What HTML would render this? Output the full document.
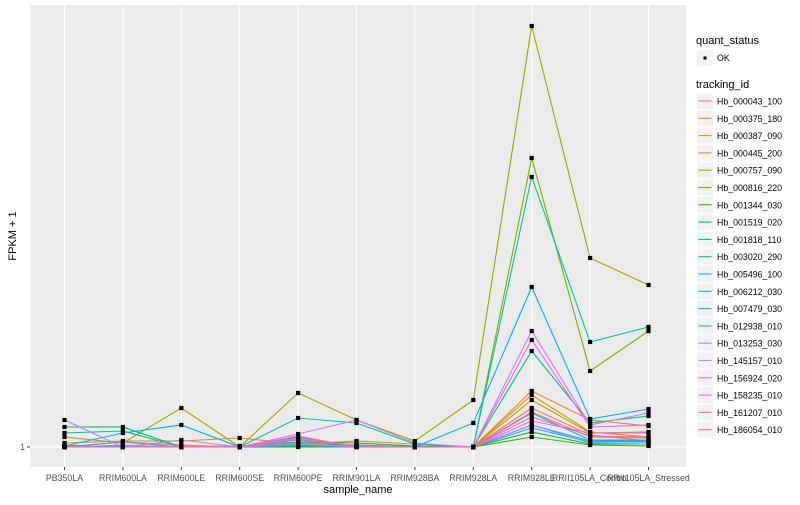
<!DOCTYPE html>
<html><head><meta charset="utf-8"><style>
body{margin:0;background:#fff;font-family:"Liberation Sans",sans-serif}
svg text{font-family:"Liberation Sans",sans-serif}
</style></head><body>
<svg id="chart" width="800" height="500" xmlns="http://www.w3.org/2000/svg">
<rect x="0" y="0" width="800" height="500" fill="#fff"/>
<rect x="30" y="5" width="656" height="462" fill="#EBEBEB"/>
<g id="grid"></g>
<g id="lines"></g>
<g id="points"></g>
<g id="axes"></g>
<text x="358" y="493" font-size="11" text-anchor="middle" fill="#000">sample_name</text>
<text transform="translate(16,236) rotate(-90)" font-size="11" text-anchor="middle" fill="#000">FPKM + 1</text>
<g id="legend"></g>
</svg>
<script>
const categories=["PB350LA","RRIM600LA","RRIM600LE","RRIM600SE","RRIM600PE","RRIM901LA","RRIM928BA","RRIM928LA","RRIM928LE","RRII105LA_Control","RRII105LA_Stressed"];
const seriesNames=["Hb_000043_100","Hb_000375_180","Hb_000387_090","Hb_000445_200","Hb_000757_090","Hb_000816_220","Hb_001344_030","Hb_001519_020","Hb_001818_110","Hb_003020_290","Hb_005496_100","Hb_006212_030","Hb_007479_030","Hb_012938_010","Hb_013253_030","Hb_145157_010","Hb_156924_020","Hb_158235_010","Hb_161207_010","Hb_186054_010"];
const colors=["#F8766D","#EA8331","#D89000","#C09B00","#A3A500","#7CAE00","#39B600","#00BB4E","#00BF7D","#00C1A3","#00BFC4","#00BAE0","#00B0F6","#35A2FF","#9590FF","#C77CFF","#E76BF3","#FA62DB","#FF62BC","#FF6C91"];
const s01=[1.2,1,1,1,1.2,1.1,1,1,4.9,2.2,1.6];
const s02=[1.4,1.6,1.6,1.9,1.3,1.6,1.3,1,6.6,3.7,3.1];
const s03=[1,1.5,1.2,1,1.4,1.2,1,1,6.2,2.5,2.0];
const s04=[1.1,1.1,1.1,1.1,1.2,1.1,1.1,1,5.7,2.4,2.5];
const s05=[2.0,1.4,4.9,1,6.4,3.7,1.6,5.7,43.1,19.9,17.2];
const s06=[1,1,1,1,1.1,1.1,1.1,1,29.9,8.6,12.6];
const s07=[1,1,1,1,1,1,1,1,2.0,1.2,1.1];
const s08=[3.0,3.0,1,1,1.5,1.4,1.1,1,2.5,1.3,1.3];
const s09=[1,1,1,1,1.1,1,1,1,10.6,3.4,4.1];
const s10=[2.4,2.6,1,1,3.9,3.4,1.3,1,28.0,11.5,13.0];
const s11=[1,1,1,1,1.7,1.1,1,1,4.4,1.7,1.7];
const s12=[1,1.1,1,1,1.3,1.2,1,1,3.2,1.6,1.6];
const s13=[1.1,2.4,3.2,1,2.0,1,1,3.4,17.0,3.8,4.8];
const s14=[1,1.5,1,1,1.2,1.1,1,1,2.9,1.5,1.5];
const s15=[1,1.2,1,1.1,1.3,1,1,1,3.2,1.4,1.3];
const s16=[3.7,1,1.7,1,2.3,3.7,1.4,1,12.6,3.2,4.4];
const s17=[1,1,1.1,1,1.4,1,1,1,3.6,2.4,2.4];
const s18=[1,1,1,1,1.9,1.1,1,1,11.7,3.0,3.2];
const s19=[1,1,1,1,2.1,1,1,1,4.0,2.1,2.0];
const s20=[1,1,1,1,1.8,1.1,1,1,4.5,2.0,1.9];
const series=[s01,s02,s03,s04,s05,s06,s07,s08,s09,s10,s11,s12,s13,s14,s15,s16,s17,s18,s19,s20];
const yTicks=[1];

const NS="http://www.w3.org/2000/svg";
function mk(tag,attrs,parent){const e=document.createElementNS(NS,tag);for(const k in attrs)e.setAttribute(k,attrs[k]);parent.appendChild(e);return e;}
const x0=64.5,dx=58.4;
function xs(i){return x0+i*dx;}
function ys(v){return 447-(v-1)*10;}

const grid=document.getElementById('grid');
categories.forEach((c,i)=>{
  const l=mk('line',{x1:xs(i),x2:xs(i),y1:5,y2:467,stroke:'#fff','stroke-width':1.1},grid);
  
  
});
yTicks.forEach(t=>{
  const l=mk('line',{x1:30,x2:686,y1:ys(t),y2:ys(t),stroke:'#fff','stroke-width':1.1},grid);
  
  
});

const lines=document.getElementById('lines'),pts=document.getElementById('points');
series.forEach((s,k)=>{
  const p=mk('polyline',{points:s.map((v,i)=>xs(i)+','+ys(v)).join(' '),fill:'none',stroke:colors[k],'stroke-width':1.1},lines);
  
  
});
series.forEach((s,k)=>{
  s.forEach((v,i)=>{
    const c=mk('rect',{x:xs(i)-2.1,y:ys(v)-2.1,width:4.2,height:4.2,fill:'#000'},pts);
    
    
  });
});

const axes=document.getElementById('axes');
categories.forEach((c,i)=>{
  const tk=mk('line',{x1:xs(i),x2:xs(i),y1:467,y2:470,stroke:'#333','stroke-width':1}, axes);
  
  
  const t=mk('text',{x:xs(i),y:481,'font-size':8.8,'text-anchor':'middle',fill:'#4D4D4D'},axes);
  t.textContent=c;
  
  
});
yTicks.forEach(v=>{
  const tk=mk('line',{x1:27,x2:30,y1:ys(v),y2:ys(v),stroke:'#333','stroke-width':1},axes);
  
  
  const t=mk('text',{x:25,y:ys(v)+3,'font-size':8.8,'text-anchor':'end',fill:'#4D4D4D'},axes);
  t.textContent=v;
  
  
});

const lg=document.getElementById('legend');
let t=mk('text',{x:696,y:44,'font-size':11,fill:'#000'},lg);t.textContent='quant_status';


let r=mk('rect',{x:697,y:50,width:16,height:16,fill:'#F2F2F2'},lg);


mk('rect',{x:703.5,y:56.5,width:3,height:3,fill:'#000'},lg);
t=mk('text',{x:717,y:61,'font-size':8.8,fill:'#000'},lg);t.textContent='OK';


t=mk('text',{x:696,y:88,'font-size':11,fill:'#000'},lg);t.textContent='tracking_id';


seriesNames.forEach((n,k)=>{
  const y=93+k*17.3;
  const g=mk('g',{},lg);
  
  
  mk('rect',{x:697,y:y,width:16,height:16,fill:'#F2F2F2'},g);
  mk('line',{x1:698.5,x2:711.5,y1:y+8,y2:y+8,stroke:colors[k],'stroke-width':1.1},g);
  const tt=mk('text',{x:717,y:y+11.5,'font-size':8.8,fill:'#000'},g);
  tt.textContent=n;
});
</script>
</body></html>
